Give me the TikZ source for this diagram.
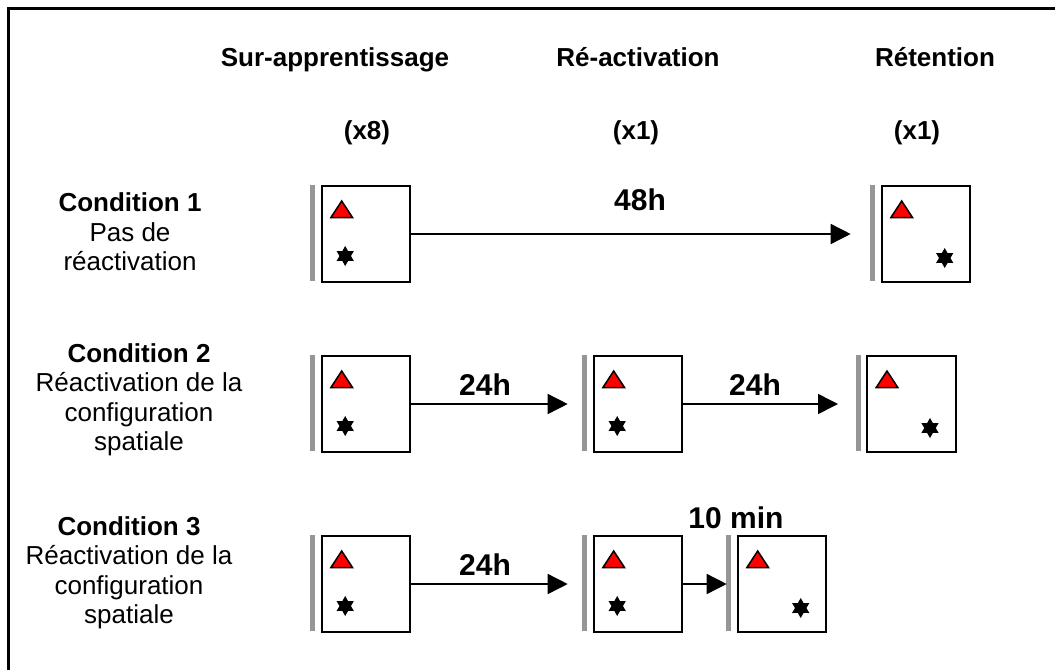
\documentclass[tikz,border=0pt]{standalone}
\usepackage{fontspec}
\setmainfont{Liberation Sans}
\usetikzlibrary{arrows.meta,shapes.geometric}
\tikzset{
 panel/.style={draw, line width=2pt, minimum width=88.5pt, minimum height=96pt, inner sep=0pt, anchor=north west},
 greybar/.style={fill={rgb,255:red,150;green,150;blue,150}, draw=none},
 tri/.style={fill=red, draw=black, line width=1.5pt, line join=miter},
 stern/.style={star, star points=6, star point ratio=1.75, minimum size=20pt, inner sep=0pt, fill=black},
 arr/.style={line width=1.5pt, -{Triangle[length=20pt,width=20pt]}},
 hdr/.style={font=\fontsize{26}{30}\selectfont\bfseries, inner sep=0pt},
 lbl/.style={font=\fontsize{30}{34}\selectfont\bfseries, inner sep=0pt},
 cond/.style={align=center, font=\fontsize{26}{29.5}\selectfont, inner sep=0pt},
}
\newcommand{\panelbox}[5]{%
 \fill[greybar] (#2-10.5,#3) rectangle (#2-5.5,#3+96);
 \node[panel] (#1) at (#2,#3) {};
 \draw[tri] (#2+21,#3+16) -- (#2+31.8,#3+32.5) -- (#2+10.2,#3+32.5) -- cycle;
 \node[stern] (#1s) at (#2+#4,#3+#5) {};
}
\begin{document}
\begin{tikzpicture}[x=1pt,y=-1pt]
\useasboundingbox (0,0) rectangle (1055,670);
\draw[line width=3pt] (8.8,670) -- (8.8,8.8) -- (1055,8.8);

% headers
\node[hdr, anchor=base] (h1) at (335,66) {Sur-apprentissage};
\node[hdr, anchor=base] (h2) at (638,66) {Ré-activation};
\node[hdr, anchor=base] (h3) at (935,66) {Rétention};
\node[hdr] (n1) at (367,133) {(x8)};
\node[hdr] (n2) at (636,133) {(x1)};
\node[hdr] (n3) at (917,133) {(x1)};

% conditions
\node[cond] (c1) at (130,232) {\textbf{Condition 1}\\Pas de\\réactivation};
\node[cond] (c2) at (139,400) {\textbf{Condition 2}\\Réactivation de la\\configuration\\spatiale};
\node[cond] (c3) at (129,573) {\textbf{Condition 3}\\Réactivation de la\\configuration\\spatiale};

% row 1
\panelbox{b11}{320.7}{185}{24.5}{71}
\panelbox{b13}{880.7}{185}{64}{73}
\draw[arr] (b11.east) -- ([xshift=-30pt]b13.west);
\node[lbl] (l1) at (640,200) {48h};

% row 2
\panelbox{b21}{320.7}{355}{24.5}{71}
\panelbox{b22}{592.7}{355}{24.5}{71}
\panelbox{b23}{866}{355}{64}{73}
\draw[arr] (b21.east) -- ([xshift=-25pt]b22.west);
\draw[arr] (b22.east) -- ([xshift=-28pt]b23.west);
\node[lbl] (l2) at (485,385) {24h};
\node[lbl] (l3) at (755,385) {24h};

% row 3
\panelbox{b31}{320.7}{535}{24.5}{71}
\panelbox{b32}{592.7}{535}{24.5}{71}
\panelbox{b33}{736.7}{535}{64}{73}
\draw[arr] (b31.east) -- ([xshift=-25pt]b32.west);
\draw[arr] (b32.east) -- ([xshift=-10pt]b33.west);
\node[lbl] (l4) at (485,565) {24h};
\node[lbl] (l5) at (736,518) {10 min};
\end{tikzpicture}
\end{document}
